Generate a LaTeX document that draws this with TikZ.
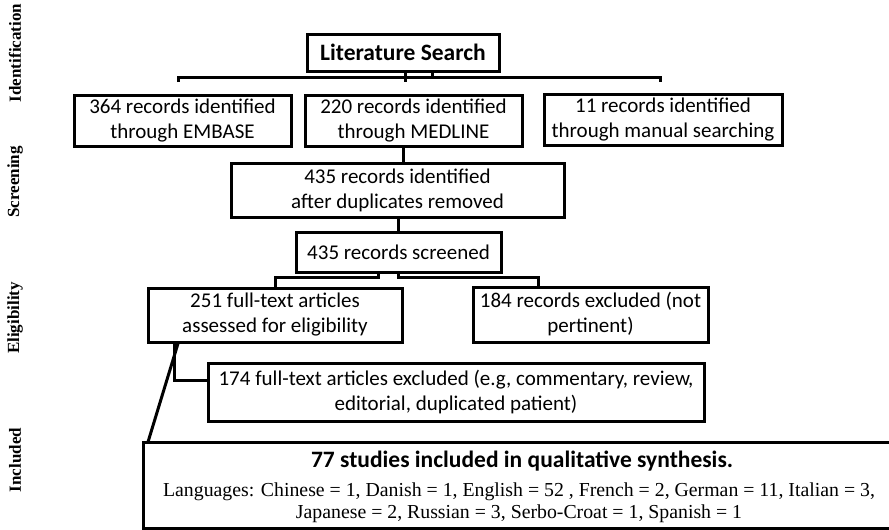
\documentclass[tikz,border=0pt]{standalone}
\usepackage{fontspec}
\setmainfont{Carlito}
\newfontfamily\tnr{Liberation Serif}
\begin{document}
\begin{tikzpicture}[x=1pt,y=-1pt,
  box/.style={draw, rectangle, inner sep=0pt, align=center, line width=3pt,
    font=\fontsize{21}{25}\selectfont},
  con/.style={line width=3pt},
  side/.style={rotate=90, font=\tnr\bfseries\fontsize{17}{20}\selectfont},
  plain/.style={inner sep=0pt, align=center}]
\clip (0,0) rectangle (889,530);
\useasboundingbox (0,0) rectangle (889,530);

% side labels
\node[side] (l1) at (15,53) {Identification};
\node[side] (l2) at (15,182) {Screening};
\node[side] (l3) at (15,318) {Eligibility};
\node[side] (l4) at (15,460) {Included};

% boxes
\node[box, minimum width=192pt, minimum height=37pt, font=\bfseries\fontsize{23.5}{27}\selectfont] (lit) at (403,52.5) {Literature Search};
\node[box, minimum width=217pt, minimum height=51pt] (b1) at (182.5,120.5) {364 records identified\\through EMBASE};
\node[box, minimum width=217pt, minimum height=51pt] (b2) at (413.5,120.5) {220 records identified\\through MEDLINE};
\node[box, minimum width=238pt, minimum height=51pt] (b3) at (663,120) {11 records identified\\through manual searching};
\node[box, minimum width=333pt, minimum height=54pt] (d) at (397.5,190) {435 records identified\\after duplicates removed};
\node[box, minimum width=205pt, minimum height=40pt] (scr) at (398.5,252) {435 records screened};
\node[box, minimum width=254pt, minimum height=54pt] (el) at (275,315) {251 full-text articles\\assessed for eligibility};
\node[box, minimum width=235pt, minimum height=55pt] (ex1) at (590.5,314.5) {184 records excluded (not\\pertinent)};
\node[box, minimum width=496pt, minimum height=58pt] (ex2) at (456,392) {174 full-text articles excluded (e.g, commentary, review,\\editorial, duplicated patient)};
\node[box, minimum width=757pt, minimum height=86pt] (fin) at (521.5,485) {};
\node[plain, font=\bfseries\fontsize{23.5}{27}\selectfont] (fint) at (522,461) {77 studies included in qualitative synthesis.};
\node[plain, font=\tnr\fontsize{19.8}{22}\selectfont] (finl) at (519,503) {Languages: Chinese = 1, Danish = 1, English = 52 , French = 2, German = 11, Italian = 3,\\Japanese = 2, Russian = 3, Serbo-Croat = 1, Spanish = 1};

% coordinates
\coordinate (s1) at (405,82);
\coordinate (s2) at (432,77);
\coordinate (bl) at (178,82);
\coordinate (br) at (660,82);
\coordinate (c1) at (403,0);
\coordinate (c2) at (398,0);
\coordinate (t1) at (378,277);
\coordinate (t2) at (398.5,277);
\coordinate (t3) at (275,277);
\coordinate (t4) at (538,277);
\coordinate (u1) at (174,380);
\coordinate (u2) at (178,0);
\coordinate (fc) at (148,442);

% connectors
\draw[con] (lit.south -| s1) -- (s1);
\draw[con] (lit.south -| s2) -- (s2);
\draw[con] (bl) -- (bl |- s2) -- (br |- s2) -- (br);
\draw[con] (c1 |- b2.south) -- (c1 |- d.north);
\draw[con] (c2 |- d.south) -- (c2 |- scr.north);
\draw[con] (t1 |- scr.south) -- (t1) -- (t3) -- (t3 |- el.north);
\draw[con] (t2 |- scr.south) -- (t2) -- (t4) -- (t4 |- ex1.north);
\draw[con] (u1 |- el.south) -- (u1) -- (u1 -| ex2.west);
\draw[con] (u2 |- el.south) -- (fc);
\end{tikzpicture}
\end{document}
